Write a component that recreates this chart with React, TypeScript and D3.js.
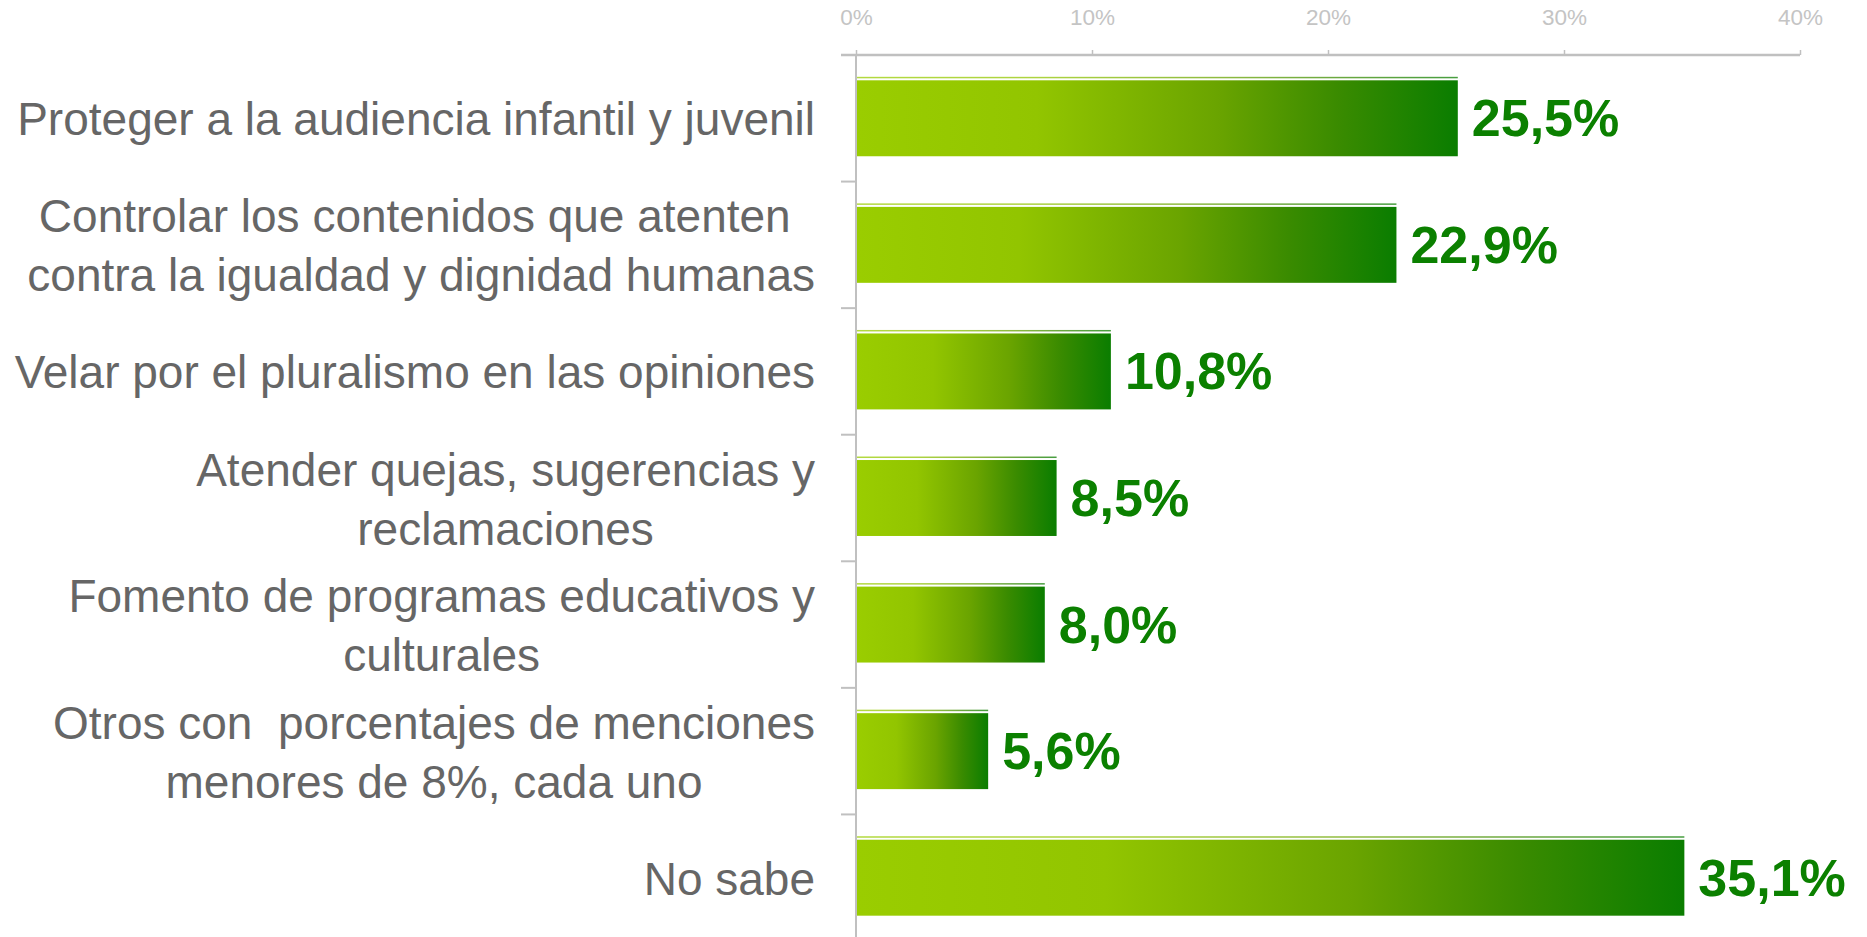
import React, { useEffect, useRef } from 'react';
import * as d3 from 'd3';

// category labels, already split the way the original wraps them
const categories: string[][] = [
  ['Proteger a la audiencia infantil y juvenil'],
  ['Controlar los contenidos que atenten ', 'contra la igualdad y dignidad humanas'],
  ['Velar por el pluralismo en las opiniones'],
  ['Atender quejas, sugerencias y', 'reclamaciones'],
  ['Fomento de programas educativos y', 'culturales'],
  ['Otros con  porcentajes de menciones', 'menores de 8%, cada uno'],
  ['No sabe'],
];

const values = [25.5, 22.9, 10.8, 8.5, 8.0, 5.6, 35.1];

const xTicks = [0, 10, 20, 30, 40];

const esFormat = d3.formatLocale({
  decimal: ',',
  thousands: '.',
  grouping: [3],
  currency: ['', '€'],
}).format('.1f');

const FONT = "'Liberation Sans', Arial, sans-serif";

const App: React.FC = () => {
  const svgRef = useRef<SVGSVGElement>(null);

  useEffect(() => {
    if (!svgRef.current) return;
    const svg = d3.select(svgRef.current);
    svg.selectAll('*').remove();

    const x = d3.scaleLinear().domain([0, 40]).range([856, 1800]);
    const y = d3.scaleBand<number>()
      .domain(categories.map((_, i) => i))
      .range([55, 941])
      .paddingInner(0.4)
      .paddingOuter(0.2);
    const bw = y.bandwidth();
    const gap = (y.step() - bw) / 2;

    // bar gradient, light lime to dark green
    const grad = svg.append('defs').append('linearGradient')
      .attr('id', 'barGrad')
      .attr('x1', '0%').attr('x2', '100%')
      .attr('y1', '0%').attr('y2', '0%');
    [
      [0, '#9acd00'],
      [0.3, '#92c500'],
      [0.6, '#6aa400'],
      [0.8, '#3a8b00'],
      [1, '#0a7d00'],
    ].forEach(([o, c]) => grad.append('stop').attr('offset', o as number).attr('stop-color', c as string));

    // top axis
    const xAxis = svg.append('g')
      .attr('transform', `translate(0,${y.range()[0]})`)
      .call(d3.axisTop(x).tickValues(xTicks).tickFormat(d => `${d}%`).tickSize(5).tickSizeOuter(0).tickPadding(25));
    xAxis.select('.domain').remove();
    xAxis.selectAll('.tick line').attr('stroke', '#c0c0c0').attr('stroke-width', 1.5);
    xAxis.selectAll('.tick text')
      .attr('fill', '#c4c4c4')
      .attr('font-size', 22.5)
      .attr('font-family', FONT);

    svg.append('line')
      .attr('x1', x(0) - 15).attr('x2', x(40))
      .attr('y1', y.range()[0]).attr('y2', y.range()[0])
      .attr('stroke', '#c0c0c0').attr('stroke-width', 2.5);

    // vertical category axis with ticks between the bands
    svg.append('line')
      .attr('x1', x(0)).attr('x2', x(0))
      .attr('y1', y.range()[0]).attr('y2', y.range()[1])
      .attr('stroke', '#c0c0c0').attr('stroke-width', 2);

    const bounds = categories.map((_, i) => (y(i) as number) - gap).concat([y.range()[1]]);
    svg.append('g').selectAll('line')
      .data(bounds.slice(1))
      .join('line')
      .attr('x1', x(0) - 15).attr('x2', x(0))
      .attr('y1', d => d).attr('y2', d => d)
      .attr('stroke', '#c0c0c0').attr('stroke-width', 2);

    // thin highlight line over each bar
    svg.append('g').selectAll('rect')
      .data(values)
      .join('rect')
      .attr('x', x(0) + 1)
      .attr('y', (_, i) => (y(i) as number) - 3.5)
      .attr('width', d => x(d) - x(0) - 1)
      .attr('height', 1.5)
      .attr('fill', 'url(#barGrad)')
      .attr('opacity', 0.75);

    svg.append('g').selectAll('rect')
      .data(values)
      .join('rect')
      .attr('x', x(0) + 1)
      .attr('y', (_, i) => y(i) as number)
      .attr('width', d => x(d) - x(0) - 1)
      .attr('height', bw)
      .attr('fill', 'url(#barGrad)');

    // value labels
    svg.append('g').selectAll('text')
      .data(values)
      .join('text')
      .attr('x', d => x(d) + 14)
      .attr('y', (_, i) => (y(i) as number) + bw / 2 + 18)
      .attr('fill', '#0b8000')
      .attr('font-size', 52)
      .attr('font-weight', 'bold')
      .attr('font-family', FONT)
      .text(d => `${esFormat(d)}%`);

    // category labels: block right aligned, lines centred inside the block
    const labelRight = 815;
    const lineH = 59;
    const labels = svg.append('g')
      .attr('fill', '#666666')
      .attr('font-size', 46)
      .attr('font-family', FONT);

    categories.forEach((lines, i) => {
      const cy = (y(i) as number) + bw / 2 + 17;
      const texts = lines.map((line, j) =>
        labels.append('text')
          .style('white-space', 'pre')
          .attr('y', cy - ((lines.length - 1) * lineH) / 2 + j * lineH)
          .attr('text-anchor', 'middle')
          .text(line)
      );
      const maxW = d3.max(texts, t => (t.node() as SVGTextElement).getComputedTextLength()) || 0;
      texts.forEach(t => t.attr('x', labelRight - maxW / 2));
    });
  }, []);

  return (
    <svg
      ref={svgRef}
      width={1867}
      height={937}
      style={{ position: 'absolute', left: 0, top: 0, background: '#fff' }}
    />
  );
};

export default App;
